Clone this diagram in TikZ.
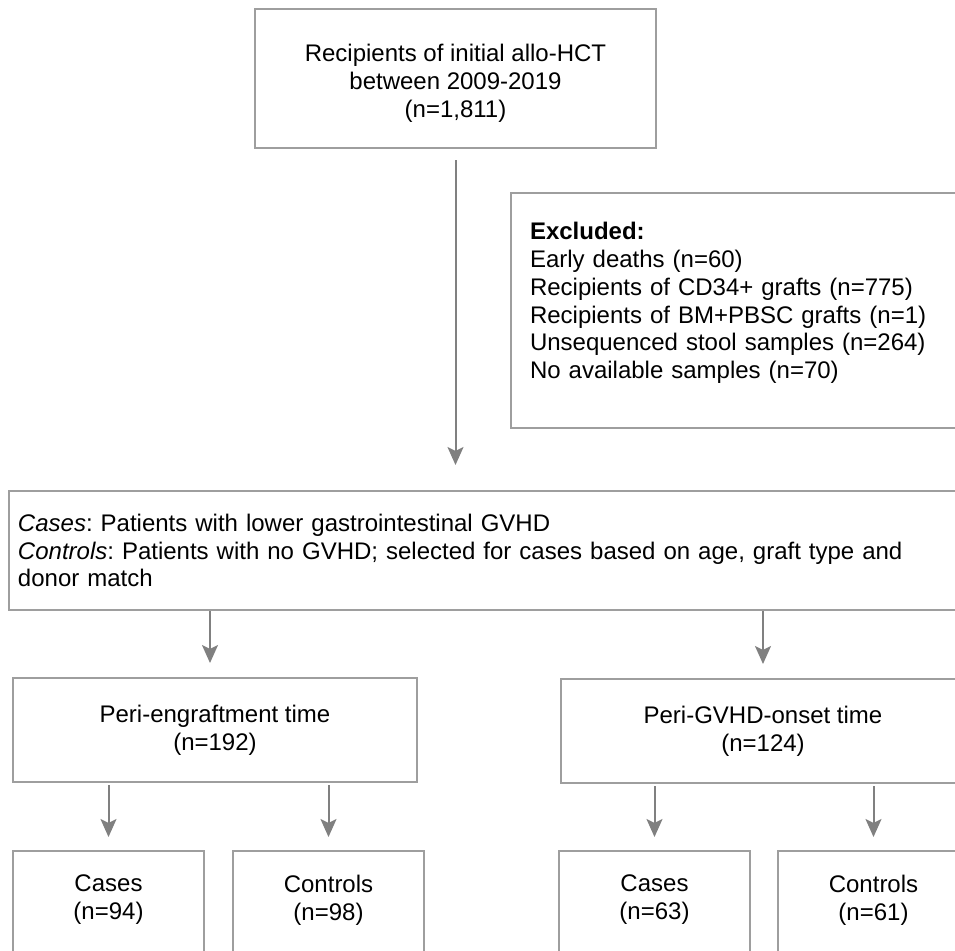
\documentclass[tikz,border=0pt]{standalone}
\usepackage{fontspec}
\setmainfont{Liberation Sans}
\usepackage{tikz}
\usetikzlibrary{arrows.meta}
\frenchspacing
\definecolor{boxgray}{RGB}{158,158,158}
\definecolor{arrowgray}{RGB}{128,128,128}
\tikzstyle{process} = [rectangle, anchor=north west, draw=boxgray, line width=1pt, align=center, font=\fontsize{12}{13.9}\selectfont]
\tikzstyle{listbox} = [process, align=left]
\tikzstyle{armbox} = [process, minimum width=95.5pt, inner ysep=12pt, text depth=50pt]
\tikzstyle{arrow} = [draw=arrowgray, line width=1pt, -{Stealth[length=9pt,width=8pt,inset=2pt]}]

\begin{document}
\begin{tikzpicture}[x=0.5pt, y=-0.5pt]
        \useasboundingbox (0,0) rectangle (955,950);
        \clip (0,0) rectangle (955,950);

        \node (recipients) [process, minimum width=200.5pt, minimum height=69.5pt, text height=41.5pt] at (254,8) {Recipients of initial allo-HCT\\between 2009-2019\\(n=1,811)};
        \node (excluded) [listbox, text width=218.5pt, inner xsep=9.5pt, minimum height=117.5pt, text depth=79.5pt] at (510,192) {\textbf{Excluded:}\\Early deaths (n=60)\\Recipients of CD34+ grafts (n=775)\\Recipients of BM+PBSC grafts (n=1)\\Unsequenced stool samples (n=264)\\No available samples (n=70)};
        \node (cohort) [listbox, text width=479.5pt, inner xsep=4.5pt, minimum height=59.5pt] at (8,490) {\textit{Cases}: Patients with lower gastrointestinal GVHD\\\textit{Controls}: Patients with no GVHD; selected for cases based on age, graft type and\\donor match};

        \node (periengraft) [process, minimum width=202pt, minimum height=52pt] at (12,677) {Peri-engraftment time\\(n=192)};
        \node (perigvhd) [process, minimum width=202pt, minimum height=52pt] at (560,678) {Peri-GVHD-onset time\\(n=124)};

        \node (engcases) [armbox] at (12,850) {Cases\\(n=94)};
        \node (engcontrols) [armbox] at (232,850) {Controls\\(n=98)};
        \node (gvhdcases) [armbox] at (558,850) {Cases\\(n=63)};
        \node (gvhdcontrols) [armbox] at (777,850) {Controls\\(n=61)};

        \draw [arrow, shorten <=5.5pt, shorten >=12.5pt] (recipients.south) -- (recipients.south |- cohort.north);
        \draw [arrow, shorten >=7pt] ([xshift=-2.5pt]periengraft.north |- cohort.south) -- ([xshift=-2.5pt]periengraft.north);
        \draw [arrow, shorten >=7pt] (perigvhd.north |- cohort.south) -- (perigvhd.north);

        \draw [arrow, shorten <=1pt, shorten >=6.5pt] (engcases.north |- periengraft.south) -- (engcases.north);
        \draw [arrow, shorten <=1pt, shorten >=6.5pt] (engcontrols.north |- periengraft.south) -- (engcontrols.north);
        \draw [arrow, shorten <=1pt, shorten >=6.5pt] (gvhdcases.north |- perigvhd.south) -- (gvhdcases.north);
        \draw [arrow, shorten <=1pt, shorten >=6.5pt] (gvhdcontrols.north |- perigvhd.south) -- (gvhdcontrols.north);
    \end{tikzpicture}
\end{document}
